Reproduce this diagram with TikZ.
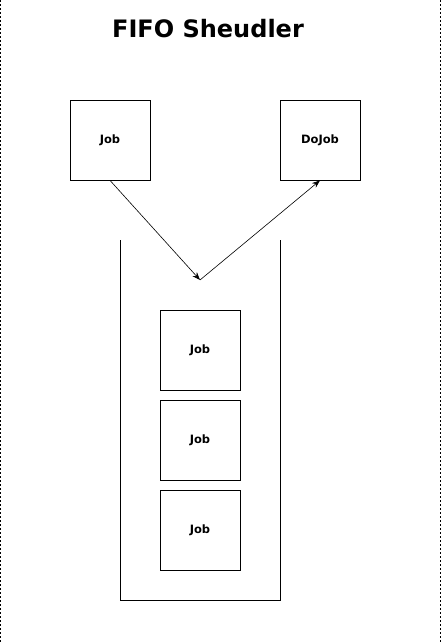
\documentclass[tikz,border=0pt]{standalone}
\usepackage{fontspec}
\setmainfont{DejaVu Sans}
\usetikzlibrary{arrows.meta}
\begin{document}
\begin{tikzpicture}[x=1pt,y=-1pt,
  jobbox/.style={draw,line width=0.8pt,minimum width=80pt,minimum height=80pt,inner sep=0pt,font=\bfseries\fontsize{11.5}{13}\selectfont},
  conn/.style={line width=0.6pt,-{Stealth[length=8pt,width=6pt]}},
  frame/.style={line width=0.6pt,dash pattern=on 2pt off 2pt}]
\useasboundingbox (0,0) rectangle (442,642);
\draw[frame] (0.5,0) -- (0.5,642);
\draw[frame] (440.5,0) -- (440.5,642);
\node[font=\bfseries\fontsize{24}{28}\selectfont] (title) at (208,29) {FIFO Sheudler};
\node[jobbox] (job) at (110,140) {Job};
\node[jobbox] (dojob) at (320,140) {DoJob};
\draw[line width=0.8pt] (120,240) -- (120,600) -- (280,600) -- (280,240);
\node[jobbox] (q1) at (200,350) {Job};
\node[jobbox] (q2) at (200,440) {Job};
\node[jobbox] (q3) at (200,530) {Job};
\coordinate (entry) at (200,280);
\draw[conn] (job.south) -- (entry);
\draw[conn] (entry) -- (dojob.south);
\end{tikzpicture}
\end{document}
